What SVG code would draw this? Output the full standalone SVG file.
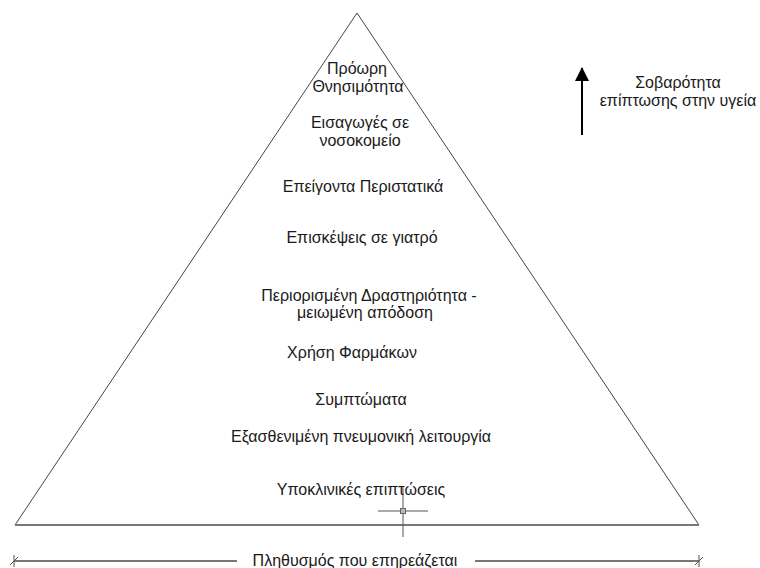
<svg xmlns="http://www.w3.org/2000/svg" width="760" height="568" viewBox="0 0 760 568">
<style>
text{font-family:"Liberation Sans",Arial,sans-serif;font-size:16px;fill:#1a1a1a;text-anchor:middle}
.side{stroke:#444;stroke-width:1;fill:none}
.base{stroke:#777;stroke-width:2;fill:none}
.thin{stroke:#555;stroke-width:1;fill:none}
</style>
<defs>
<marker id="ah" markerWidth="16" markerHeight="16" refX="13" refY="8" orient="auto" markerUnits="userSpaceOnUse" viewBox="0 0 16 16">
<path d="M0,1 L14,8 L0,15 Z" fill="#000"/>
</marker>
</defs>
<rect width="760" height="568" fill="#fff"/>
<g id="pyramid">
<path class="side" d="M15,525 L357,13 L699,525"/>
<line class="base" x1="15" y1="525" x2="699" y2="525"/>
</g>
<g id="connectors">
<line x1="582" y1="135" x2="582" y2="68" stroke="#000" stroke-width="2" marker-end="url(#ah)"/>
</g>
<g id="cursor">
<line class="thin" x1="403" y1="487" x2="403" y2="537"/>
<line class="thin" x1="378" y1="511" x2="428" y2="511"/>
<rect x="400.5" y="508.5" width="5" height="5" fill="#bbb" stroke="#666" stroke-width="1"/>
</g>
<g id="dimension">
<line class="base" x1="14" y1="561" x2="237" y2="561"/>
<line class="base" x1="475" y1="561" x2="699" y2="561"/>
<line class="thin" x1="14" y1="555" x2="14" y2="567"/>
<line class="thin" x1="10" y1="565" x2="18" y2="557"/>
<line class="thin" x1="699" y1="555" x2="699" y2="567"/>
<line class="thin" x1="695" y1="565" x2="703" y2="557"/>
<text x="355" y="566">Πληθυσμός που επηρεάζεται</text>
</g>
<g id="n1"><text x="357" y="74">Πρόωρη</text><text x="358" y="92">Θνησιμότητα</text></g>
<g id="n2"><text x="360" y="128">Εισαγωγές σε</text><text x="360" y="146">νοσοκομείο</text></g>
<g id="n3"><text x="363" y="192">Επείγοντα Περιστατικά</text></g>
<g id="n4"><text x="362" y="243">Επισκέψεις σε γιατρό</text></g>
<g id="n5"><text x="369" y="301">Περιορισμένη Δραστηριότητα -</text><text x="365" y="318">μειωμένη απόδοση</text></g>
<g id="n6"><text x="352" y="358">Χρήση Φαρμάκων</text></g>
<g id="n7"><text x="361" y="405">Συμπτώματα</text></g>
<g id="n8"><text x="361" y="442">Εξασθενιμένη πνευμονική λειτουργία</text></g>
<g id="n9"><text x="361" y="495">Υποκλινικές επιπτώσεις</text></g>
<g id="legend"><text x="678" y="88">Σοβαρότητα</text><text x="678" y="106">επίπτωσης στην υγεία</text></g>
</svg>
